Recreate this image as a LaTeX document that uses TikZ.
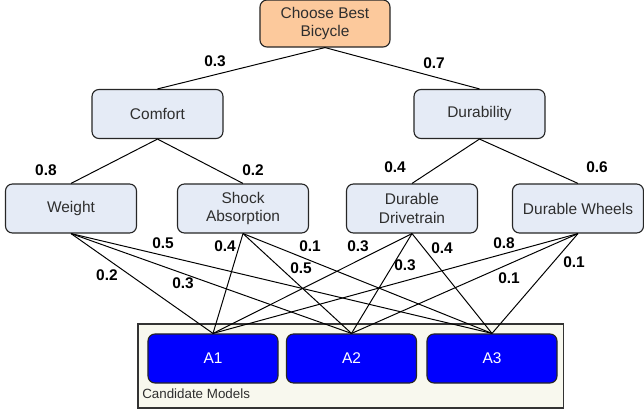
\documentclass[tikz,border=0pt]{standalone}
\usepackage{fontspec}
\setmainfont{Liberation Sans}
\usetikzlibrary{positioning}
\usepackage{xcolor}

\definecolor{goalfill}{HTML}{FCC99C}
\definecolor{critfill}{HTML}{E5EBF6}
\definecolor{altfill}{HTML}{0000FF}
\definecolor{poolfill}{HTML}{F8F8EE}
\definecolor{boxtext}{HTML}{2E2E2E}

\begin{document}
\begin{tikzpicture}[
		x=0.025cm, y=-0.025cm,
		% Style definitions
		goal/.style={draw=black!85, line width=0.8pt, rounded corners=5pt, fill=goalfill, minimum width=3.25cm, minimum height=1.175cm, align=center, font=\fontsize{11}{13.5}\selectfont, text=boxtext},
		crit/.style={draw=black!85, line width=0.8pt, rounded corners=5pt, fill=critfill, minimum width=3.275cm, minimum height=1.225cm, align=center, font=\fontsize{11}{13.5}\selectfont, text=boxtext},
		alt/.style={draw=black!85, line width=0.8pt, rounded corners=5pt, fill=altfill, minimum width=3.25cm, minimum height=1.225cm, font=\fontsize{11}{13.5}\selectfont, text=white},
		pool/.style={draw=black!80, line width=0.8pt, fill=poolfill, minimum width=10.625cm, minimum height=2.1cm},
		link/.style={line width=0.7pt, black},
		wlabel/.style={font=\bfseries\fontsize{11}{13}\selectfont, inner sep=1pt},
		]
		\useasboundingbox (0,0) rectangle (644,412);

		% === Goal and criteria ===
		\node[goal] (root) at (325,23.5) {Choose Best\\Bicycle};
		\node[crit] (comfort) at (157.5,114) {Comfort};
		\node[crit] (durability) at (479.5,114) {Durability};
		\node[crit] (weight) at (71,208.5) {Weight};
		\node[crit] (shock) at (243,208.5) {Shock\\Absorption};
		\node[crit] (drive) at (412,208.5) {Durable\\Drivetrain};
		\node[crit] (wheels) at (578,208.5) {Durable Wheels};

		% === Candidate models ===
		\node[pool] (models) at (350.5,366) {};
		\node[anchor=west, inner sep=0pt, font=\fontsize{9.5}{11}\selectfont, text=boxtext] (modelslabel) at (142,394) {Candidate Models};

		% === Upper links ===
		\draw[link] (root.south) -- (comfort.north);
		\draw[link] (root.south) -- (durability.north);
		\draw[link] (comfort.south) -- (weight.north);
		\draw[link] (comfort.south) -- (shock.north);
		\draw[link] (durability.south) -- (drive.north);
		\draw[link] (durability.south) -- (wheels.north);
		\node[wlabel] (w-comfort) at (215,61) {0.3};
		\node[wlabel] (w-durability) at (434,63) {0.7};
		\node[wlabel] (w-weight) at (46,170) {0.8};
		\node[wlabel] (w-shock) at (253,170) {0.2};
		\node[wlabel] (w-drive) at (395,167) {0.4};
		\node[wlabel] (w-wheels) at (597,167) {0.6};

		% === Alternatives ===
		\node[alt] (a1) at (213,358.5) {A1};
		\node[alt] (a2) at (351.5,358.5) {A2};
		\node[alt] (a3) at (492,358.5) {A3};

		% === Lower links (criterion to model) ===
		\foreach \src/\dst/\w/\lx/\ly in {weight/a1/0.2/107/275, weight/a2/0.3/183/283, weight/a3/0.5/163/243,
				shock/a1/0.4/225/246, shock/a2/0.5/301/268, shock/a3/0.1/310/246,
				drive/a1/0.3/358/246, drive/a2/0.3/405/265, drive/a3/0.4/442/248,
				wheels/a1/0.8/504/243, wheels/a2/0.1/509/278, wheels/a3/0.1/574/262}{
			\draw[link] (\src.south) -- (\dst.north);
			\node[wlabel] (w-\src-\dst) at (\lx,\ly) {\w};
		}

	\end{tikzpicture}
\end{document}
